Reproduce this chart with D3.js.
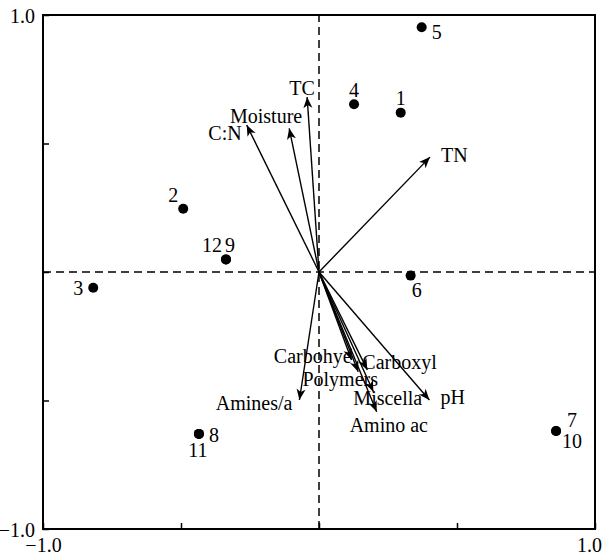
<!DOCTYPE html>
<html lang="en">
	<head>
		<meta charset="utf-8">
		<title>RDA biplot</title>
		<script src="https://d3js.org/d3.v7.min.js" charset="utf-8"></script>
		<style type="text/css">
		body { margin: 0; background: #fff; }
		.lbl {
		font-family: "Liberation Serif", "Times New Roman", serif;
		font-size: 20px;
		fill: #000;
		}
		</style>
	</head>
	<body>
		<div id="chart"></div>
		<script>
			var width = 606;
			var height = 556;

			// sample scores
			var siteNames = ["1", "2", "3", "4", "5", "6", "7", "8", "9", "10", "11", "12"];
			var siteX = [0.296, -0.492, -0.818, 0.127, 0.372, 0.332, 0.859, -0.435, -0.337, 0.859, -0.435, -0.337];
			var siteY = [0.620, 0.246, -0.061, 0.653, 0.952, -0.014, -0.619, -0.630, 0.049, -0.619, -0.630, 0.049];

			// environmental vectors
			var envNames = ["TC", "Moisture", "C:N", "TN", "Carbohye", "Carboxyl", "Polymers", "Miscella", "Amino ac", "pH", "Amines/a"];
			var envX = [-0.043, -0.108, -0.262, 0.402, 0.118, 0.175, 0.142, 0.197, 0.209, 0.400, -0.071];
			var envY = [0.681, 0.559, 0.572, 0.447, -0.342, -0.381, -0.388, -0.466, -0.544, -0.498, -0.498];

			var tickValues = [-1, -0.5, 0, 0.5, 1];
			var tickLabels = ["\u22121.0", "", "", "", "1.0"];

			// label placement (px offsets from the mark)
			var siteLabelPos = {
				"1": [0, -8, "middle"], "2": [-10, -7, "middle"], "3": [-10, 7, "end"],
				"4": [0, -7, "middle"], "5": [10, 12, "start"], "6": [1, 21, "start"],
				"7": [11, -4, "start"], "8": [10, 8, "start"], "9": [-1, -7, "start"],
				"10": [6, 17, "start"], "11": [-1, 23, "middle"], "12": [-4, -7, "end"]
			};
			var envLabelPos = {
				"TC": [-5, -2, "middle"], "Moisture": [13, -5, "end"], "C:N": [-5, 15, "end"],
				"TN": [11, 5, "start"], "Carbohye": [0, 3, "end"], "Carboxyl": [-5, -1, "start"],
				"Polymers": [-18, 14, "middle"], "Miscella": [-20, 13, "start"],
				"Amino ac": [-27, 20, "start"], "pH": [11, 4, "start"], "Amines/a": [-7, 10, "end"]
			};

			var x = d3.scaleLinear().domain([-1, 1]).range([43, 595]);
			var y = d3.scaleLinear().domain([-1, 1]).range([529, 15]);

			var svg = d3.select("#chart")
				.append("svg")
				.attr("width", width)
				.attr("height", height);

			svg.append("defs").append("marker")
				.attr("id", "head")
				.attr("markerUnits", "userSpaceOnUse")
				.attr("viewBox", "-12 -6 14 12")
				.attr("refX", 0)
				.attr("refY", 0)
				.attr("markerWidth", 14)
				.attr("markerHeight", 12)
				.attr("orient", "auto")
				.append("path")
				.attr("d", "M0,0 L-11,-4.5 L-8,0 L-11,4.5 Z")
				.attr("fill", "#000");

			// dashed zero lines
			svg.append("line")
				.attr("x1", x(-1)).attr("x2", x(1))
				.attr("y1", y(0)).attr("y2", y(0))
				.attr("stroke", "#000").attr("stroke-width", 1.5)
				.attr("stroke-dasharray", "8,5");
			svg.append("line")
				.attr("x1", x(0)).attr("x2", x(0))
				.attr("y1", y(-1)).attr("y2", y(1))
				.attr("stroke", "#000").attr("stroke-width", 1.5)
				.attr("stroke-dasharray", "8,5");

			// axes
			var xAxis = svg.append("g")
				.attr("transform", "translate(0," + y(-1) + ")")
				.call(d3.axisBottom(x).tickValues(tickValues).tickSizeInner(-6).tickSizeOuter(0)
					.tickFormat(function(d, i) { return tickLabels[i]; }));
			var yAxis = svg.append("g")
				.attr("transform", "translate(" + x(-1) + ",0)")
				.call(d3.axisLeft(y).tickValues(tickValues).tickSizeInner(-6).tickSizeOuter(0)
					.tickFormat(function(d, i) { return tickLabels[i]; }));

			[xAxis, yAxis].forEach(function(g) {
				g.select(".domain").remove();
				g.selectAll(".tick line").attr("stroke", "#000").attr("stroke-width", 1.5);
				g.selectAll(".tick text")
					.attr("class", "lbl")
					.attr("font-size", null)
					.attr("font-family", null);
			});
			xAxis.selectAll(".tick text").attr("y", 8).attr("dy", "0.75em")
				.attr("dx", function(d) { return d === 1 ? -6 : 0; });
			yAxis.selectAll(".tick text").attr("x", -8).attr("dy", "0.36em");

			// frame
			svg.append("rect")
				.attr("x", x(-1)).attr("y", y(1))
				.attr("width", x(1) - x(-1)).attr("height", y(-1) - y(1))
				.attr("fill", "none").attr("stroke", "#000").attr("stroke-width", 2);

			// vectors
			var env = envNames.map(function(n, i) { return {name: n, x: envX[i], y: envY[i]}; });
			svg.selectAll(".vec")
				.data(env)
				.enter().append("line")
				.attr("class", "vec")
				.attr("x1", x(0)).attr("y1", y(0))
				.attr("x2", function(d) { return x(d.x); })
				.attr("y2", function(d) { return y(d.y); })
				.attr("stroke", "#000").attr("stroke-width", 1.4)
				.attr("marker-end", "url(#head)");

			svg.selectAll(".envlbl")
				.data(env)
				.enter().append("text")
				.attr("class", "lbl")
				.attr("x", function(d) { return x(d.x) + envLabelPos[d.name][0]; })
				.attr("y", function(d) { return y(d.y) + envLabelPos[d.name][1]; })
				.attr("text-anchor", function(d) { return envLabelPos[d.name][2]; })
				.text(function(d) { return d.name; });

			// sites
			var sites = siteNames.map(function(n, i) { return {name: n, x: siteX[i], y: siteY[i]}; });
			svg.selectAll(".site")
				.data(sites)
				.enter().append("circle")
				.attr("class", "site")
				.attr("cx", function(d) { return x(d.x); })
				.attr("cy", function(d) { return y(d.y); })
				.attr("r", 5)
				.attr("fill", "#000");

			svg.selectAll(".sitelbl")
				.data(sites)
				.enter().append("text")
				.attr("class", "lbl")
				.attr("x", function(d) { return x(d.x) + siteLabelPos[d.name][0]; })
				.attr("y", function(d) { return y(d.y) + siteLabelPos[d.name][1]; })
				.attr("text-anchor", function(d) { return siteLabelPos[d.name][2]; })
				.text(function(d) { return d.name; });
		</script>
	</body>
</html>
